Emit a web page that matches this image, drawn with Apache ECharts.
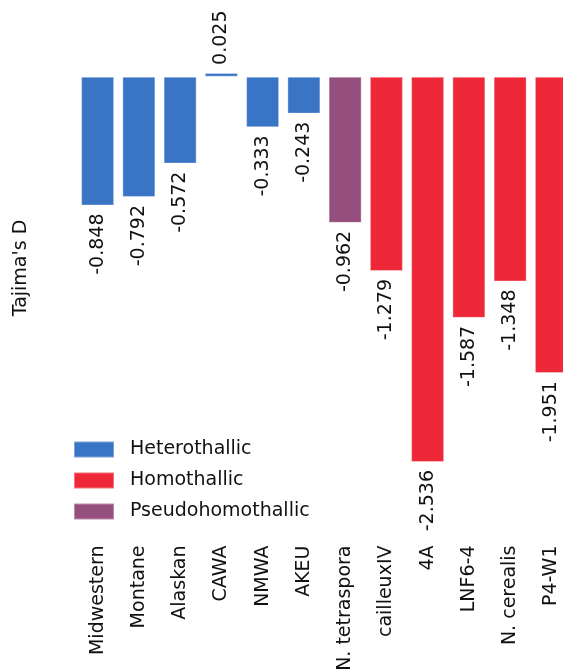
<!DOCTYPE html>
<html>
<head>
<meta charset="utf-8">
<script src="https://cdn.jsdelivr.net/npm/echarts@6/dist/echarts.min.js"></script>
<style>
  html, body { margin: 0; padding: 0; background: #fff; overflow: hidden; }
  /* the plot area runs slightly past the right edge of the page */
  #chart { width: 600px; height: 670px; }
</style>
</head>
<body>
<div id="chart"></div>
<script>
// Tajima's D per population, grouped by mating system
const categories = ['Midwestern', 'Montane', 'Alaskan', 'CAWA', 'NMWA', 'AKEU',
  'N. tetraspora', 'cailleuxIV', '4A', 'LNF6-4', 'N. cerealis', 'P4-W1'];
const tajimaD = [-0.848, -0.792, -0.572, 0.025, -0.333, -0.243,
  -0.962, -1.279, -2.536, -1.587, -1.348, -1.951];
const matingType = ['Heterothallic', 'Heterothallic', 'Heterothallic', 'Heterothallic',
  'Heterothallic', 'Heterothallic', 'Pseudohomothallic', 'Homothallic', 'Homothallic',
  'Homothallic', 'Homothallic', 'Homothallic'];
const groups = ['Heterothallic', 'Homothallic', 'Pseudohomothallic'];
const groupColors = ['#3a74c5', '#ee2838', '#954f7c'];

const FONT = 'DejaVu Sans';

const series = groups.map((g, gi) => ({
  name: g,
  type: 'bar',
  barWidth: 33,
  barGap: '-100%',
  itemStyle: {
    color: groupColors[gi],
    borderColor: 'rgba(255,255,255,0.35)',
    borderWidth: 1
  },
  data: tajimaD.map((v, i) => {
    if (matingType[i] !== g) return '-';
    const neg = v < 0;
    return {
      value: v,
      label: {
        show: true,
        position: neg ? 'bottom' : 'top',
        rotate: 90,
        align: neg ? 'right' : 'left',
        verticalAlign: 'middle',
        distance: 8,
        formatter: (p) => p.value.toFixed(3),
        fontFamily: FONT,
        fontSize: 19,
        color: '#111'
      }
    };
  })
}));

const chart = echarts.init(document.getElementById('chart'), null, { renderer: 'canvas' });
chart.setOption({
  animation: false,
  backgroundColor: '#fff',
  grid: {
    left: 77, top: 61.5, width: 495, height: 471,
    containLabel: false,
    outerBoundsMode: 'none'
  },
  legend: {
    orient: 'vertical',
    left: 68,
    top: 435,
    itemWidth: 40,
    itemHeight: 16,
    itemGap: 12,
    data: groups,
    icon: 'rect',
    textStyle: { fontFamily: FONT, fontSize: 19, color: '#111', padding: [0, 0, 0, 11] }
  },
  graphic: [{
    type: 'text',
    x: 21,
    y: 268,
    rotation: Math.PI / 2,
    style: {
      text: "Tajima's D",
      font: '19px "DejaVu Sans"',
      fill: '#111',
      align: 'center',
      verticalAlign: 'middle'
    }
  }],
  xAxis: {
    type: 'category',
    data: categories,
    axisLine: { show: false },
    axisTick: { show: false },
    axisLabel: {
      rotate: 90,
      interval: 0,
      margin: 13,
      fontFamily: FONT,
      fontSize: 19,
      color: '#111'
    }
  },
  yAxis: {
    type: 'value',
    min: -3,
    max: 0.1,
    interval: 0.1,
    axisLine: { show: false },
    axisTick: { show: false },
    axisLabel: { show: false },
    splitLine: { show: false }
  },
  series: series
});
</script>
</body>
</html>
